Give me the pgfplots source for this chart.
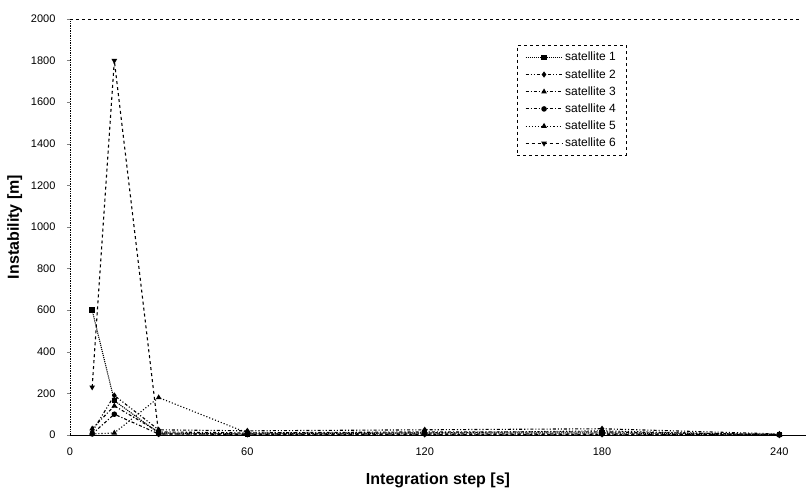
\documentclass[border=0pt]{standalone}
\usepackage{fontspec}
\setmainfont{Liberation Sans}
\usepackage{pgfplots}
\pgfplotsset{compat=1.18}

\begin{document}
\begin{tikzpicture}
\begin{axis}[
    scale only axis,
    width=736pt, height=416pt,
    xmin=0, xmax=249,
    ymin=0, ymax=2000,
    xtick={0,60,120,180,240},
    ytick={0,200,400,600,800,1000,1200,1400,1600,1800,2000},
    axis x line*=bottom,
    axis y line*=left,
    x axis line style={-, line width=0.7pt},
    y axis line style={-, line width=0.7pt, densely dotted},
    tick align=outside,
    major tick length=3pt,
    xtick style={draw=none},
    ytick style={line width=0.5pt},
    ticklabel style={font=\fontsize{11}{13}\selectfont},
    yticklabel style={xshift=-8pt},
    xticklabel style={yshift=-6pt},
    /pgf/number format/assume math mode=true,
    /pgf/number format/1000 sep={},
    scaled y ticks=false,
    xlabel={Integration step [s]},
    ylabel={Instability [m]},
    xlabel style={font=\fontsize{16}{18}\selectfont\bfseries, at={(axis description cs:0.5,-0.11)}, anchor=center},
    ylabel style={font=\fontsize{16}{18}\selectfont\bfseries, at={(axis description cs:-0.075,0.5)}, anchor=center, rotate=0},
    clip=false,
    every axis plot/.append style={line width=1.1pt, black, mark size=2.2pt},
    legend style={at={(0.607,0.9375)}, anchor=north west, draw=black, line width=0.5pt, dashed,
        font=\fontsize{12}{14}\selectfont, row sep=3pt, inner xsep=8pt, inner ysep=5pt},
    legend cell align=left,
    legend image code/.code={\draw[mark repeat=2, mark phase=2, #1] plot coordinates {(0cm,0cm) (0.65cm,0cm) (1.3cm,0cm)};},
]
\addplot[densely dotted, mark=square*, mark options={solid}] coordinates {
    (7.5,600) (15,165) (30,10) (60,5) (120,10) (180,10) (240,2)
};
\addlegendentry{satellite 1}
\addplot[dash dot dot, mark=diamond*, mark options={solid}] coordinates {
    (7.5,15) (15,190) (30,25) (60,20) (120,25) (180,30) (240,5)
};
\addlegendentry{satellite 2}
\addplot[dash dot, mark=triangle*, mark options={solid}] coordinates {
    (7.5,30) (15,140) (30,15) (60,10) (120,15) (180,15) (240,3)
};
\addlegendentry{satellite 3}
\addplot[dash dot, mark=*, mark options={solid}] coordinates {
    (7.5,5) (15,100) (30,5) (60,5) (120,5) (180,5) (240,0)
};
\addlegendentry{satellite 4}
\addplot[dotted, mark=triangle*, mark options={solid}] coordinates {
    (7.5,5) (15,10) (30,180) (60,10) (120,10) (180,20) (240,0)
};
\addlegendentry{satellite 5}
\addplot[dashed, mark=triangle*, mark options={solid, rotate=180}] coordinates {
    (7.5,230) (15,1800) (30,5) (60,3) (120,3) (180,3) (240,0)
};
\addlegendentry{satellite 6}
\draw[dashed, line width=0.5pt] (rel axis cs:0,1) -- (rel axis cs:0.99,1);
\end{axis}
\pgfresetboundingbox
\path ([shift={(-70pt,-55pt)}]current axis.south west) rectangle ([shift={(0pt,19pt)}]current axis.north east);
\end{tikzpicture}
\end{document}
